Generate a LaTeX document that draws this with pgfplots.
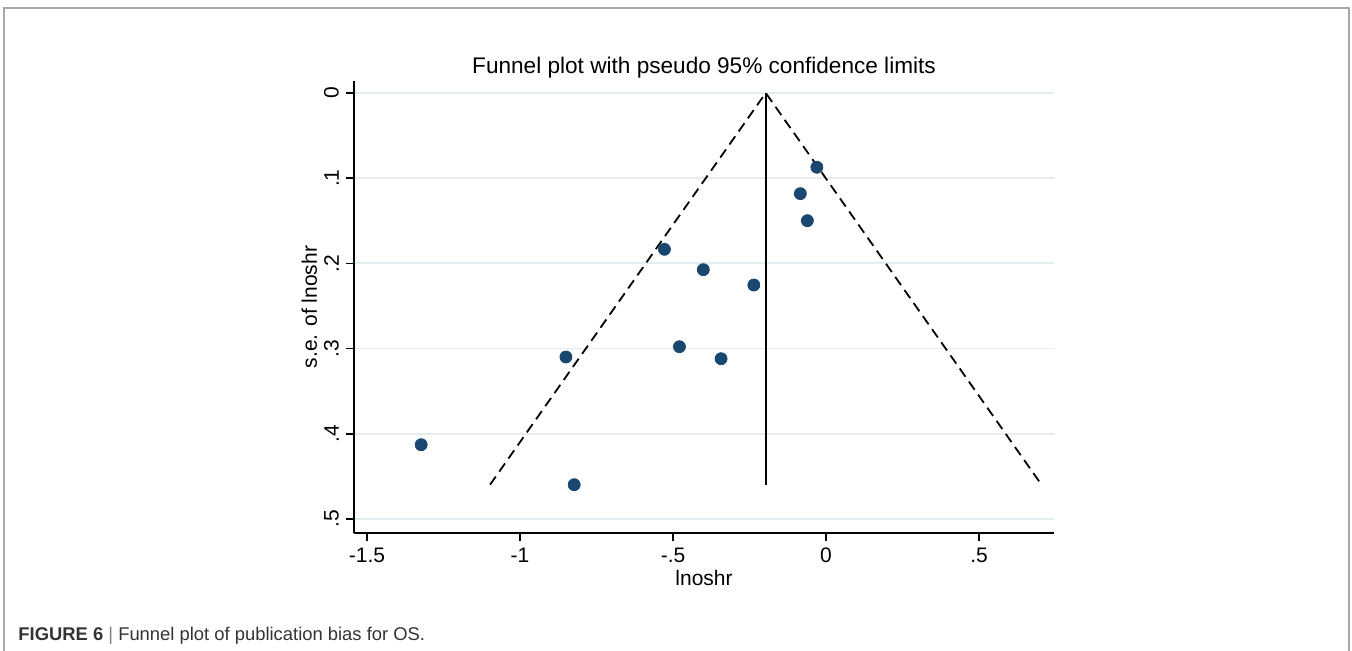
\documentclass[border=0pt]{standalone}
\usepackage{fontspec}
\setmainfont{Liberation Sans}
\usepackage{pgfplots}
\pgfplotsset{compat=1.18}
\definecolor{stnavy}{HTML}{1A476F}
\definecolor{gridc}{HTML}{E3EDF1}
\definecolor{framec}{HTML}{A8A8A8}
\definecolor{capc}{HTML}{333333}
\begin{document}
\begin{tikzpicture}
\path[use as bounding box] (0,0) rectangle (676pt,325.5pt);
\draw[framec, line width=0.8pt] (2pt,-2pt) -- (2pt,321.5pt) -- (674.5pt,321.5pt) -- (674.5pt,-2pt);
\begin{axis}[
  at={(177pt,59pt)}, anchor=south west, scale only axis,
  width=350pt, height=226pt,
  xmin=-1.5425, xmax=0.745, ymin=-0.014, ymax=0.5164, y dir=reverse,
  axis x line*=bottom, axis y line*=left,
  axis line style={line width=0.85pt, -},
  xtick={-1.5,-1,-0.5,0,0.5}, xticklabels={-1.5,-1,-.5,0,.5},
  ytick={0,0.1,0.2,0.3,0.4,0.5}, yticklabels={0,.1,.2,.3,.4,.5},
  tick align=outside, major tick length=4pt,
  tick style={black, line width=0.7pt},
  ymajorgrids, grid style={gridc, line width=0.9pt},
  tick label style={font=\fontsize{10.5}{12}\selectfont},
  yticklabel style={rotate=90, anchor=south},
  title={Funnel plot with pseudo 95\% confidence limits},
  title style={at={(axis description cs:0.5,1)}, anchor=base, yshift=-2pt, font=\fontsize{11.3}{13}\selectfont},
  xlabel={lnoshr}, ylabel={s.e. of lnoshr},
  xlabel style={at={(axis description cs:0.5,0)}, anchor=base, yshift=-26pt, font=\fontsize{10.5}{12}\selectfont},
  ylabel style={at={(axis description cs:-0.0529,0.5)}, anchor=base, rotate=0, font=\fontsize{10.5}{12}\selectfont},
  clip=false,
]
\addplot[black, line width=0.85pt] coordinates {(-0.197,0) (-0.197,0.4597)};
\addplot[black, line width=0.9pt, dash pattern=on 5pt off 3pt] coordinates {(-1.098,0.4597) (-0.197,0) (0.704,0.4597)};
\addplot[only marks, mark=*, mark size=3pt, draw=stnavy, fill=stnavy] coordinates {
(-0.030,0.0872) (-0.084,0.1182) (-0.061,0.1499) (-0.528,0.1835) (-0.401,0.2074)
(-0.236,0.2254) (-0.479,0.2978) (-0.343,0.3119) (-0.850,0.3099) (-1.323,0.4128) (-0.823,0.4597)
};
\end{axis}
\node[anchor=base west, text=capc, font=\fontsize{9.2}{11}\selectfont, inner sep=0pt] at (9pt,5pt) {\textbf{FIGURE 6} {\color{gray}|} Funnel plot of publication bias for OS.};
\end{tikzpicture}
\end{document}
